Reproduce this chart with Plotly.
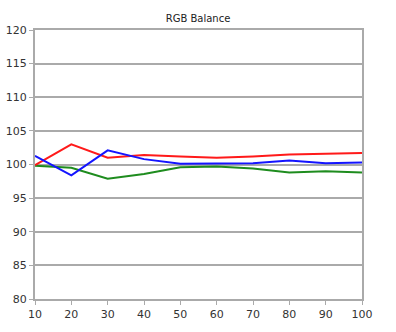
import plotly.graph_objects as go

levels = [10, 20, 30, 40, 50, 60, 70, 80, 90, 100]
red = [99.9, 103.0, 101.0, 101.4, 101.2, 101.0, 101.2, 101.5, 101.6, 101.7]
green = [99.8, 99.5, 97.9, 98.6, 99.6, 99.7, 99.4, 98.8, 99.0, 98.8]
blue = [101.3, 98.4, 102.1, 100.8, 100.1, 100.1, 100.2, 100.6, 100.2, 100.3]
y_ticks = [80, 85, 90, 95, 100, 105, 110, 115, 120]

fig = go.Figure()
for name, vals, col in [("Green", green, "#1e8c1e"), ("Red", red, "#ff1a1a"), ("Blue", blue, "#1414ff")]:
    fig.add_trace(go.Scatter(x=levels, y=vals, mode="lines", name=name,
                             line=dict(color=col, width=2)))

axis_font = dict(family="DejaVu Sans", size=11, color="#333333")
fig.update_layout(
    width=396, height=332,
    margin=dict(l=35, r=34, t=30, b=33),
    paper_bgcolor="white", plot_bgcolor="white",
    showlegend=False,
    title=dict(text="RGB Balance", x=0.5, xanchor="center", y=0.945, yanchor="middle",
               font=dict(family="DejaVu Sans", size=10, color="#222222")),
    xaxis=dict(range=[10, 100], tickvals=levels, showgrid=False, zeroline=False,
               showline=True, linecolor="#aaaaaa", linewidth=2, mirror=True,
               ticks="outside", ticklen=4, tickcolor="#aaaaaa", tickwidth=1,
               tickfont=axis_font, automargin=False),
    yaxis=dict(range=[80, 120], tickvals=y_ticks, showgrid=True, gridcolor="#aaaaaa",
               gridwidth=1.5, zeroline=False,
               showline=True, linecolor="#aaaaaa", linewidth=2, mirror=True,
               ticks="outside", ticklen=4, tickcolor="#aaaaaa", tickwidth=1,
               tickfont=axis_font, automargin=False),
)
fig.write_html("out.html")
